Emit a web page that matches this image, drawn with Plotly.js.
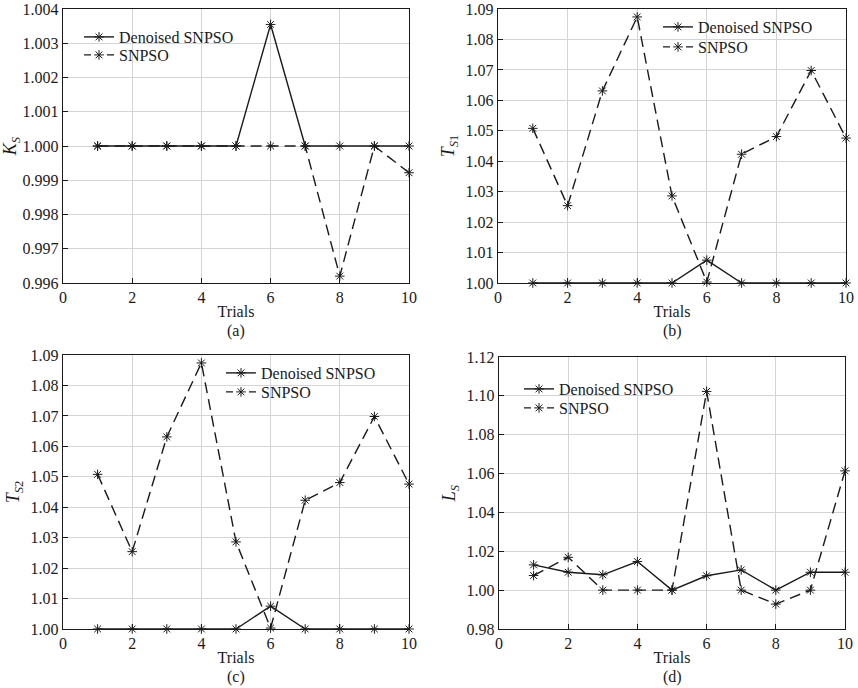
<!DOCTYPE html>
<html>
<head>
<meta charset="utf-8">
<script src="https://cdn.plot.ly/plotly-3.0.1.min.js"></script>
<style>html,body{margin:0;padding:0;background:#fff;}#chart{width:858px;height:688px;}</style>
</head>
<body>
<div id="chart"></div>
<script>
// ---- data ----
var trials = [1, 2, 3, 4, 5, 6, 7, 8, 9, 10];
var seriesNames = ["Denoised SNPSO", "SNPSO"];
var ksDenoised = [1.0000, 1.0000, 1.0000, 1.0000, 1.0000, 1.00355, 1.0000, 1.0000, 1.0000, 1.0000];
var ksSnpso    = [1.0000, 1.0000, 1.0000, 1.0000, 1.0000, 1.0000, 1.0000, 0.99620, 1.0000, 0.99922];
var ts1Denoised = [1.000, 1.000, 1.000, 1.000, 1.000, 1.0075, 1.000, 1.000, 1.000, 1.000];
var ts1Snpso    = [1.0508, 1.0254, 1.0631, 1.0874, 1.0286, 1.0003, 1.0423, 1.0481, 1.0698, 1.0476];
var ts2Denoised = [1.000, 1.000, 1.000, 1.000, 1.000, 1.0075, 1.000, 1.000, 1.000, 1.000];
var ts2Snpso    = [1.0508, 1.0254, 1.0631, 1.0874, 1.0286, 1.0003, 1.0423, 1.0481, 1.0698, 1.0476];
var lsDenoised = [1.0130, 1.0092, 1.0079, 1.0147, 1.0000, 1.0074, 1.0104, 1.0000, 1.0092, 1.0092];
var lsSnpso    = [1.0075, 1.0169, 1.0000, 1.0000, 1.0000, 1.1023, 1.0000, 0.9928, 1.0000, 1.0614];
var yTitles = ["<i>K</i><sub><i>S</i></sub>", "<i>T</i><sub><i>S</i>1</sub>", "<i>T</i><sub><i>S</i>2</sub>", "<i>L</i><sub><i>S</i></sub>"];
var panelLabels = ["(a)", "(b)", "(c)", "(d)"];
var xTitle = "Trials";
var xTicks = [0, 2, 4, 6, 8, 10];
var yRanges = [[0.996, 1.004], [1.00, 1.09], [1.00, 1.09], [0.98, 1.12]];
var yDticks = [0.001, 0.01, 0.01, 0.02];
var yFormats = [".3f", ".2f", ".2f", ".2f"];

// ---- layout helpers ----
var W = 858, H = 688;
var FONT = '"Liberation Serif", "Times New Roman", Times, serif';
var INK = "#1a1a1a";
var boxes = [ // pixel boxes [left, right, top, bottom]
  [63, 409, 9, 283],
  [498, 846, 9, 283],
  [63, 409, 355, 629],
  [499, 845, 357, 629]
];
var legendX = [79, 658, 221, 519];          // pixel left of each panel's legend
var legendRows = [[37, 55], [27, 47], [373, 392], [389, 408]]; // pixel row centres
var dataSets = [
  [ksDenoised, ksSnpso],
  [ts1Denoised, ts1Snpso],
  [ts2Denoised, ts2Snpso],
  [lsDenoised, lsSnpso]
];
var PLOT_DASH = "11px,6px";
var LEGEND_DASH = "7px,16px";

var traces = [];
var layout = {
  width: W, height: H,
  margin: {l: 0, r: 0, t: 0, b: 0},
  paper_bgcolor: "#fff", plot_bgcolor: "#fff",
  font: {family: FONT, size: 16, color: INK},
  showlegend: true,
  annotations: []
};

var legendCount = 0;
function nextLegend(px, py) {
  legendCount++;
  var lg = legendCount === 1 ? "legend" : "legend" + legendCount;
  layout[lg] = {
    visible: true,
    x: px / W, y: 1 - py / H, xanchor: "left", yanchor: "middle",
    bgcolor: "rgba(0,0,0,0)", borderwidth: 0,
    font: {family: FONT, size: 16, color: INK}, itemwidth: 30
  };
  return lg;
}
var markerStyle = {symbol: "asterisk-open", size: 8, color: INK, line: {color: INK, width: 1}};

for (var i = 0; i < 4; i++) {
  var b = boxes[i];
  var xa = i === 0 ? "x" : "x" + (i + 1);
  var ya = i === 0 ? "y" : "y" + (i + 1);
  var lgA = nextLegend(legendX[i], legendRows[i][0]);
  var lgB = nextLegend(legendX[i], legendRows[i][1]);
  // Denoised SNPSO (solid)
  traces.push({
    x: trials, y: dataSets[i][0], xaxis: xa, yaxis: ya, legend: lgA, showlegend: true,
    name: seriesNames[0], type: "scatter", mode: "lines+markers",
    line: {color: INK, width: 1.4, dash: "solid"}, marker: markerStyle, cliponaxis: false
  });
  // SNPSO (dashed)
  traces.push({
    x: trials, y: dataSets[i][1], xaxis: xa, yaxis: ya, showlegend: false,
    name: seriesNames[1], type: "scatter", mode: "lines+markers",
    line: {color: INK, width: 1.4, dash: PLOT_DASH}, marker: markerStyle, cliponaxis: false
  });
  // legend key for SNPSO (no data, just the key with a dash pattern that fits the swatch)
  traces.push({
    x: [null], y: [null], xaxis: xa, yaxis: ya, legend: lgB, showlegend: true,
    name: seriesNames[1], type: "scatter", mode: "lines+markers", hoverinfo: "skip",
    line: {color: INK, width: 1.4, dash: LEGEND_DASH}, marker: markerStyle
  });
  var axBase = {
    showline: true, linecolor: INK, linewidth: 1.2, mirror: true,
    ticks: "inside", ticklen: 5, tickcolor: INK, tickwidth: 1,
    showgrid: true, gridcolor: "#d4d4d4", gridwidth: 1,
    zeroline: false, ticklabeloverflow: "allow",
    tickfont: {family: FONT, size: 16, color: INK}
  };
  layout["xaxis" + (i === 0 ? "" : i + 1)] = Object.assign({}, axBase, {
    domain: [b[0] / W, b[1] / W], anchor: ya,
    range: [0, 10], tickvals: xTicks, ticktext: xTicks.map(String),
    title: {text: xTitle, font: {family: FONT, size: 16, color: INK}, standoff: 0}
  });
  var r = yRanges[i], pad = (r[1] - r[0]) * 1e-4;
  layout["yaxis" + (i === 0 ? "" : i + 1)] = Object.assign({}, axBase, {
    domain: [1 - b[3] / H, 1 - b[2] / H], anchor: xa,
    range: [r[0] - pad, r[1] + pad], dtick: yDticks[i], tick0: r[0], tickformat: yFormats[i],
    title: {text: yTitles[i], font: {family: FONT, size: 18, color: INK}, standoff: 6}
  });
  layout.annotations.push({
    text: panelLabels[i], xref: "paper", yref: "paper", showarrow: false,
    x: ((b[0] + b[1]) / 2) / W, y: 1 - (b[3] + 48) / H, xanchor: "center", yanchor: "middle",
    font: {family: FONT, size: 16, color: INK}
  });
}

Plotly.newPlot("chart", traces, layout, {displayModeBar: false, staticPlot: true});
</script>
</body>
</html>
